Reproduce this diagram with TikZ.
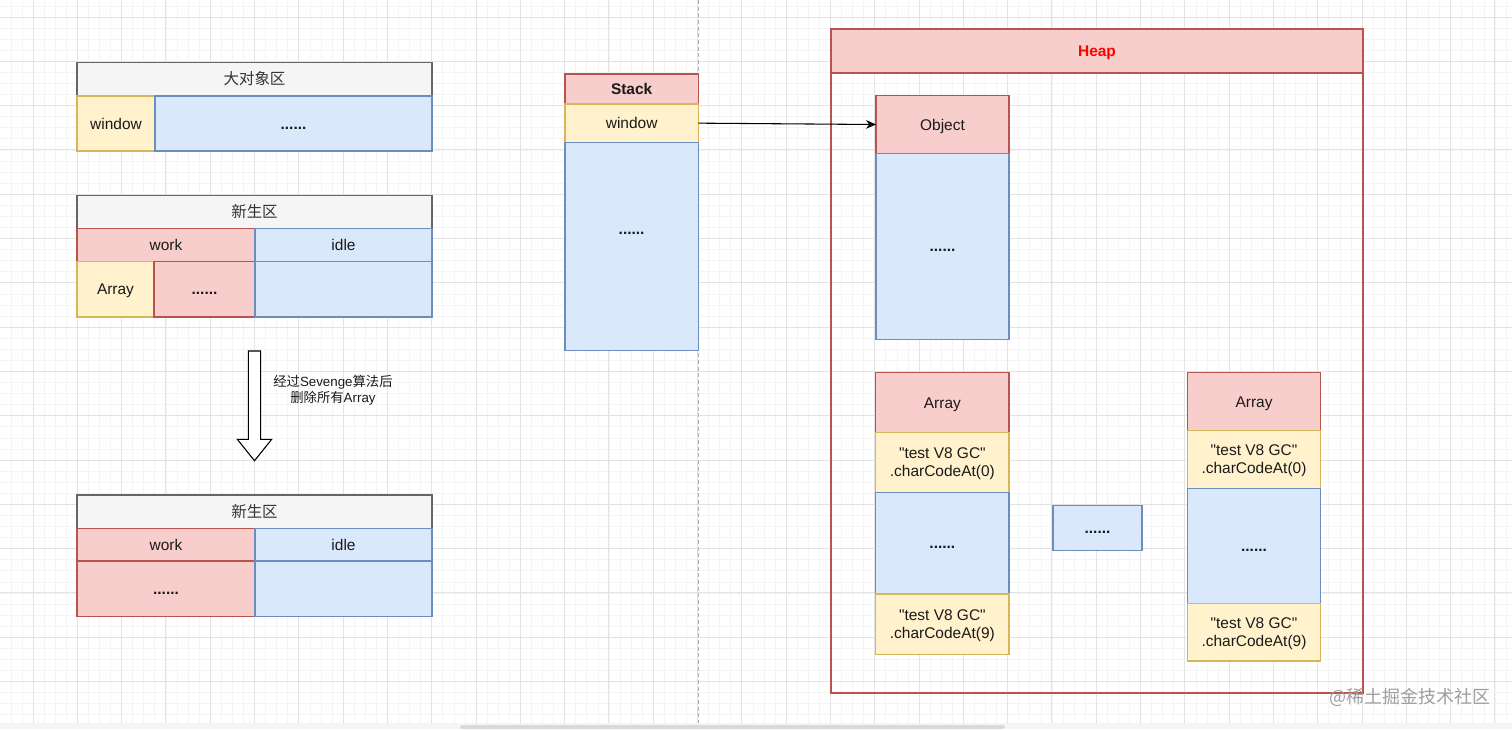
\documentclass[tikz,border=0pt]{standalone}
\usepackage{fontspec}
\setmainfont{Liberation Sans}
\newfontfamily\lib{Liberation Sans}
\newfontfamily\cjk{Noto Sans CJK SC}
\usetikzlibrary{arrows.meta}
\definecolor{redF}{HTML}{F8CECC}
\definecolor{redS}{HTML}{B85450}
\definecolor{yelF}{HTML}{FFF2CC}
\definecolor{yelS}{HTML}{D6B656}
\definecolor{bluF}{HTML}{DAE8FC}
\definecolor{bluS}{HTML}{6C8EBF}
\definecolor{grayF}{HTML}{F5F5F5}
\definecolor{grayS}{HTML}{666666}
\definecolor{txt}{HTML}{1A1A1A}
\definecolor{cjktxt}{HTML}{333333}
\definecolor{majorgrid}{HTML}{E3E3E3}
\definecolor{minorgrid}{HTML}{F4F4F4}
\newcommand{\dotsix}{\textbf{......}}
\tikzset{
  cell/.style={anchor=north west, inner sep=0pt, outer sep=0pt, line width=0.8pt,
    text=txt, align=center, font=\lib\fontsize{11.6}{13.5}\selectfont,
    text height=1.04em, text depth=0.2em},
  redcell/.style={cell, draw=redS, fill=redF},
  yelcell/.style={cell, draw=yelS, fill=yelF},
  blucell/.style={cell, draw=bluS, fill=bluF},
  graycell/.style={cell, draw=grayS, fill=grayF, text=cjktxt},
  wh/.style 2 args={minimum width=#1*0.75pt, minimum height=#2*0.75pt},
  two/.style={label={[text=txt, align=center, font=\lib\fontsize{11.6}{13.5}\selectfont, yshift=-1.2pt]center:{#1}}},
  dots/.style={text=txt, font=\lib\fontsize{11.6}{13.5}\selectfont, text height=1.04em, text depth=0.2em},
}
\begin{document}
\begin{tikzpicture}[x=0.75pt,y=-0.75pt]
\useasboundingbox (0,0) rectangle (1512,729);
\fill[white] (0,0) rectangle (1512,729);
% grid
\foreach \i in {-3,...,133} {\draw[minorgrid, line width=0.5pt] ({33+11.075*\i},0) -- ({33+11.075*\i},729);}
\foreach \i in {-1,...,64} {\draw[minorgrid, line width=0.5pt] (0,{17+11.075*\i}) -- (1512,{17+11.075*\i});}
\foreach \i in {-1,...,33} {\draw[majorgrid, line width=0.7pt] ({33+44.3*\i},0) -- ({33+44.3*\i},729);}
\foreach \i in {0,...,16} {\draw[majorgrid, line width=0.7pt] (0,{17+44.3*\i}) -- (1512,{17+44.3*\i});}
% dashed separator
\draw[black!30, line width=0.6pt, dash pattern=on 3pt off 2pt] (698,0) -- (698,729);
% bottom scroll area
\fill[black!4] (0,723) rectangle (1512,729);
\fill[black!15, rounded corners=2pt] (460,725) rectangle (1005,729);

% ---------- left: large object space
\node[graycell, wh={355}{33.5}] (bigH) at (77,62.5) {\cjk 大对象区};
\node[yelcell, wh={78}{55}] (bigW) at (77,96) {window};
\node[blucell, wh={277}{55}] (bigD) at (155,96) {\dotsix};
% ---------- left: new space (before)
\node[graycell, wh={355}{32.6}] (newH) at (77,195.7) {\cjk 新生区};
\node[redcell, wh={178}{33.4}] (work) at (77,228.3) {work};
\node[blucell, wh={177}{33.4}] (idle) at (255,228.3) {idle};
\node[yelcell, wh={77}{55.3}] (arrL) at (77,261.7) {Array};
\node[redcell, wh={101}{55.3}] (dotsL) at (154,261.7) {\dotsix};
\node[blucell, wh={177}{55.3}] (idleL) at (255,261.7) {};
% block arrow
\draw[line width=0.8pt, fill=white] (248.3,351) -- (260.7,351) -- (260.7,439.3) -- (271.7,439.3)
  -- (254.5,460.7) -- (237.3,439.3) -- (248.3,439.3) -- cycle;
\node[text=txt, align=center, font=\lib\fontsize{10}{11.8}\selectfont] (note) at (333,390)
  {{\cjk 经过}Sevenge{\cjk 算法后}\\{\cjk 删除所有}Array};
% ---------- left: new space (after)
\node[graycell, wh={355}{33.3}] (newH2) at (77,495) {\cjk 新生区};
\node[redcell, wh={178}{32.7}] (work2) at (77,528.3) {work};
\node[blucell, wh={177}{32.7}] (idle2) at (255,528.3) {idle};
\node[redcell, wh={178}{55.7}] (dots2) at (77,561) {\dotsix};
\node[blucell, wh={177}{55.7}] (idleL2) at (255,561) {};

% ---------- stack
\node[redcell, wh={133.3}{30}, font=\lib\fontsize{11.6}{13.5}\selectfont\bfseries] (stackH) at (565,74) {Stack};
\node[yelcell, wh={133.3}{38.3}] (stackW) at (565,104) {window};
\node[blucell, wh={133.3}{208}] (stackD) at (565,142.3) {};
\node[dots] (stackDots) at (631.6,229) {\dotsix};

% ---------- heap
\draw[redS, line width=0.8pt] (831,29) rectangle (1363,693);
\node[redcell, wh={532}{44}, text=red, font=\lib\fontsize{11.6}{13.5}\selectfont\bfseries] (heapH) at (831,29) {Heap};
\node[redcell, wh={133}{57.6}] (objH) at (876,95.7) {Object};
\node[blucell, wh={133}{186}] (objD) at (876,153.3) {\dotsix};

\node[redcell, wh={133.3}{59.6}] (a1H) at (875.7,372.7) {Array};
\node[yelcell, wh={133.3}{60.4}, two={"test V8 GC"\\.charCodeAt(0)}] (a1A) at (875.7,432.3) {};
\node[blucell, wh={133.3}{101.3}] (a1D) at (875.7,492.7) {\dotsix};
\node[yelcell, wh={133.3}{60.3}, two={"test V8 GC"\\.charCodeAt(9)}] (a1B) at (875.7,594) {};

\node[blucell, wh={89}{44.6}] (mid) at (1053,505.7) {\dotsix};

\node[redcell, wh={133.4}{58}] (a2H) at (1187.3,372.7) {Array};
\node[yelcell, wh={133.4}{57.6}, two={"test V8 GC"\\.charCodeAt(0)}] (a2A) at (1187.3,430.7) {};
\node[blucell, wh={133.4}{115}] (a2D) at (1187.3,488.3) {\dotsix};
\node[yelcell, wh={133.4}{57.7}, two={"test V8 GC"\\.charCodeAt(9)}] (a2B) at (1187.3,603.3) {};

% pointer
\draw[line width=0.8pt, -{Stealth[length=7.5pt,width=6.5pt]}] (stackW.east) -- (objH.west);

% watermark
\node[text=black!38, font=\fontsize{13.5}{15}\selectfont] (wm) at (1410,697) {\cjk @稀土掘金技术社区};
\end{tikzpicture}
\end{document}
